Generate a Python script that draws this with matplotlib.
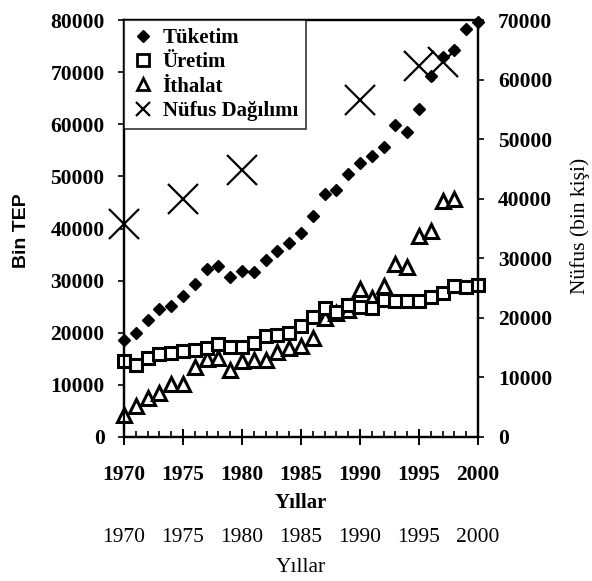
import matplotlib
matplotlib.use("Agg")
import matplotlib.pyplot as plt
from matplotlib.ticker import MultipleLocator
from matplotlib.lines import Line2D

# Energy balance of Turkey, 1970-2000 (thousand TOE) and population (thousand people)
years = list(range(1970, 2001))
tuketim = [18700, 20000, 22400, 24500, 25100, 27000, 29300, 32300, 32800, 30700,
           31900, 31700, 34000, 35600, 37300, 39200, 42400, 46700, 47300, 50500,
           52500, 54000, 55700, 59800, 58600, 63000, 69300, 72900, 74300, 78300,
           79600]
uretim = [14500, 13900, 15100, 15900, 16100, 16500, 16600, 17000, 17800, 17300,
          17300, 18000, 19400, 19500, 20000, 21300, 23100, 24700, 24000, 25300,
          25000, 24800, 26200, 26000, 26000, 26000, 26800, 27700, 28900, 28800,
          29200]
ithalat_years = list(range(1970, 1999))
ithalat = [4200, 5900, 7400, 8400, 10200, 10200, 13400, 15000, 15200, 12800,
           14500, 14700, 14800, 16300, 17000, 17400, 18900, 22900, 23800, 24300,
           28300, 26600, 29000, 33200, 32600, 38500, 39500, 45300, 45600]
nufus_years = [1970, 1975, 1980, 1990, 1995, 1997]
nufus = [35700, 40000, 44900, 56500, 62200, 63000]

left_ticks = list(range(0, 80001, 10000))
right_ticks = list(range(0, 70001, 10000))
year_ticks = list(range(1970, 2001, 5))
labels = ['Tüketim', 'Üretim', 'İthalat', 'Nüfus Dağılımı']

plt.rcParams['font.family'] = ['Liberation Serif', 'DejaVu Serif']
plt.rcParams['font.weight'] = 'bold'

W, H = 592, 581
fig = plt.figure(figsize=(W / 100, H / 100), dpi=100)
ax = fig.add_axes([124 / W, 1 - 437 / H, (478 - 124) / W, (437 - 20) / H])
ax2 = ax.twinx()

ax.plot(years, tuketim, ls='none', marker='D', ms=6, mfc='black', mec='black',
        mew=1, clip_on=False, zorder=5)
ax.plot(years, uretim, ls='none', marker='s', ms=9, mfc='white', mec='black',
        mew=2.2, clip_on=False, zorder=4)
ax.plot(ithalat_years, ithalat, ls='none', marker='^', ms=10, mfc='white',
        mec='black', mew=2.2, clip_on=False, zorder=3)
ax2.plot(nufus_years, nufus, ls='none', marker='x', ms=21, mec='black',
         mew=1.6, clip_on=False, zorder=6)

ax.set_xlim(1970, 2000)
ax.set_ylim(0, 80000)
ax2.set_ylim(0, 70000)
ax.set_yticks(left_ticks)
ax2.set_yticks(right_ticks)
ax.set_xticks(year_ticks)
ax.xaxis.set_minor_locator(MultipleLocator(1))

for a in (ax, ax2):
    for s in a.spines.values():
        s.set_linewidth(1.6)

ax.tick_params(axis='y', direction='out', length=4.5, width=1.2, pad=9.5,
               labelsize=15.5)
ax2.tick_params(axis='y', direction='out', length=4.5, width=1.2, pad=10,
                labelsize=15.5)
ax.tick_params(axis='x', which='major', direction='inout', length=11, width=1.4,
               pad=15, labelsize=15.5)
ax.tick_params(axis='x', which='minor', direction='in', length=4.5, width=1.2)
ax.tick_params(top=False, right=False)

# axis title under the bold year labels, then a plain second row of years
xt = ax.get_xaxis_transform()
ax.text(1985, -0.158, 'Yıllar', transform=xt, ha='center', va='center',
        fontsize=15, fontweight='bold')
for yr in year_ticks:
    ax.text(yr, -0.24, str(yr), transform=xt, ha='center', va='center',
            fontsize=15.5, fontweight='normal')
ax.text(1985, -0.314, 'Yıllar', transform=xt, ha='center', va='center',
        fontsize=15.5, fontweight='normal')

fig.text(21 / W, 1 - 231 / H, 'Bin TEP', rotation=90, ha='center', va='center',
         fontsize=14, fontweight='bold', family=['Liberation Sans', 'DejaVu Sans'])
fig.text(580 / W, 1 - 226 / H, 'Nüfus (bin kişi)', rotation=90, ha='center',
         va='center', fontsize=15.5, fontweight='normal')

handles = [
    Line2D([], [], ls='none', marker='D', ms=6, mfc='black', mec='black'),
    Line2D([], [], ls='none', marker='s', ms=8, mfc='white', mec='black', mew=2),
    Line2D([], [], ls='none', marker='^', ms=8, mfc='white', mec='black', mew=2),
    Line2D([], [], ls='none', marker='x', ms=10, mec='black', mew=1.6),
]
leg = ax2.legend(handles, labels, loc='upper left', bbox_to_anchor=(0, 1),
                 borderaxespad=0, frameon=True, fancybox=False,
                 handlelength=1.0, handletextpad=0.45, labelspacing=0.2,
                 borderpad=0.4, prop={'size': 15, 'weight': 'bold'})
leg.get_frame().set_edgecolor('black')
leg.get_frame().set_linewidth(1.2)
leg.set_zorder(10)

fig.savefig('out.png', dpi=100)
